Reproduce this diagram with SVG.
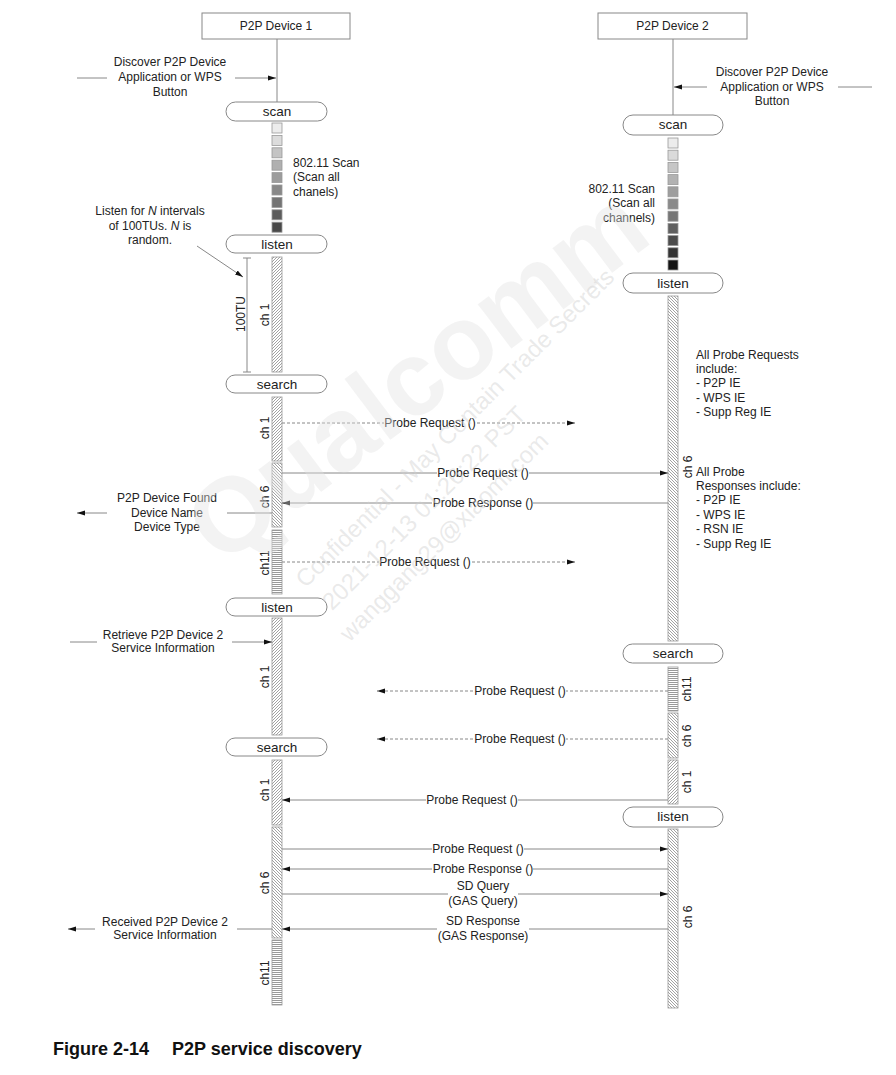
<svg xmlns="http://www.w3.org/2000/svg" width="896" height="1075" viewBox="0 0 896 1075">
<style>
text{font-family:"Liberation Sans",Arial,sans-serif;font-size:12px;fill:#222}
.c{text-anchor:middle}
.r{text-anchor:end}
.pt{font-size:13.5px;text-anchor:middle}
.ln{stroke:#888;stroke-width:1;fill:none}
.ds{stroke-dasharray:3 2}
.ar{marker-end:url(#ah)}
.pill{fill:#fff;stroke:#888;stroke-width:1}
.box{fill:#fff;stroke:#888;stroke-width:1}
.sq{stroke:#999;stroke-width:0.8}
.bar{stroke:#999;stroke-width:0.8}
.fw{fill:url(#fw)}
.bw{fill:url(#bw)}
.hz{fill:url(#hz)}
.wb{fill:#fff}
.wm{fill:#cfcfcf;fill-opacity:0.45;font-size:24px}
.cap{font-size:18px;font-weight:bold;fill:#111}
</style>
<defs>
<marker id="ah" viewBox="0 0 8 6" refX="8" refY="3" markerWidth="8" markerHeight="6" orient="auto" markerUnits="userSpaceOnUse"><path d="M0,0.6 L8,3 L0,5.4z" fill="#111"/></marker>
<pattern id="fw" patternUnits="userSpaceOnUse" width="3" height="3"><rect width="3" height="3" fill="#fff"/><path d="M-1,1 L1,-1 M0,3 L3,0 M2,4 L4,2" stroke="#7a7a7a" stroke-width="0.7"/></pattern>
<pattern id="bw" patternUnits="userSpaceOnUse" width="3" height="3"><rect width="3" height="3" fill="#fff"/><path d="M-1,2 L1,4 M0,0 L3,3 M2,-1 L4,1" stroke="#7a7a7a" stroke-width="0.7"/></pattern>
<pattern id="hz" patternUnits="userSpaceOnUse" width="4" height="2"><rect width="4" height="2" fill="#fff"/><rect width="4" height="1" fill="#999"/></pattern>
</defs>

<g id="device1">
<rect class="box" x="202" y="13" width="148" height="26"/>
<text class="c" x="276" y="30">P2P Device 1</text>
</g>
<g id="device2">
<rect class="box" x="598" y="13" width="149" height="26"/>
<text class="c" x="672.5" y="30">P2P Device 2</text>
</g>

<g id="lifeline1-states">
<rect class="pill" x="226" y="102" width="101" height="19" rx="9.5"/>
<text class="pt" x="277" y="116">scan</text>
<g class="sq">
<rect x="272" y="123" width="10" height="10" fill="#ececec"/>
<rect x="272" y="135.4" width="10" height="10" fill="#dcdcdc"/>
<rect x="272" y="147.8" width="10" height="10" fill="#c4c4c4"/>
<rect x="272" y="160.2" width="10" height="10" fill="#b0b0b0"/>
<rect x="272" y="172.6" width="10" height="10" fill="#9c9c9c"/>
<rect x="272" y="185" width="10" height="10" fill="#888"/>
<rect x="272" y="197.4" width="10" height="10" fill="#747474"/>
<rect x="272" y="209.8" width="10" height="10" fill="#5c5c5c"/>
<rect x="272" y="222.2" width="10" height="10" fill="#484848"/>
</g>
<rect class="pill" x="226" y="235" width="101" height="18" rx="9"/>
<text class="pt" x="277" y="249">listen</text>
<rect class="bar fw" x="272" y="257" width="10" height="115"/>
<rect class="pill" x="226" y="375" width="101" height="18" rx="9"/>
<text class="pt" x="277" y="389">search</text>
<rect class="bar fw" x="272" y="397" width="10" height="64"/>
<rect class="bar bw" x="272" y="463" width="10" height="64"/>
<rect class="bar hz" x="272" y="530" width="10" height="64"/>
<rect class="pill" x="226" y="598" width="101" height="18" rx="9"/>
<text class="pt" x="277" y="612">listen</text>
<rect class="bar fw" x="272" y="618" width="10" height="117"/>
<rect class="pill" x="226" y="738" width="101" height="18" rx="9"/>
<text class="pt" x="277" y="752">search</text>
<rect class="bar fw" x="272" y="760" width="10" height="65"/>
<rect class="bar bw" x="272" y="827" width="10" height="111"/>
<rect class="bar hz" x="272" y="940" width="10" height="65"/>
<text class="c" transform="rotate(-90 269 315)" x="269" y="315">ch 1</text>
<text class="c" transform="rotate(-90 269 428)" x="269" y="428">ch 1</text>
<text class="c" transform="rotate(-90 269 497)" x="269" y="497">ch 6</text>
<text class="c" transform="rotate(-90 269 563)" x="269" y="563">ch11</text>
<text class="c" transform="rotate(-90 269 677)" x="269" y="677">ch 1</text>
<text class="c" transform="rotate(-90 269 790)" x="269" y="790">ch 1</text>
<text class="c" transform="rotate(-90 269 883)" x="269" y="883">ch 6</text>
<text class="c" transform="rotate(-90 269 973)" x="269" y="973">ch11</text>
<path class="ln" d="M243,258 H251 M247,258 V372 M243,372 H251"/>
<text class="c" transform="rotate(-90 245 314)" x="245" y="314">100TU</text>
</g>

<g id="lifeline2-states">
<rect class="pill" x="623" y="115" width="100" height="20" rx="10"/>
<text class="pt" x="673" y="129">scan</text>
<g class="sq">
<rect x="668" y="138" width="10" height="10" fill="#ececec"/>
<rect x="668" y="150.2" width="10" height="10" fill="#dadada"/>
<rect x="668" y="162.4" width="10" height="10" fill="#c6c6c6"/>
<rect x="668" y="174.6" width="10" height="10" fill="#b2b2b2"/>
<rect x="668" y="186.8" width="10" height="10" fill="#9e9e9e"/>
<rect x="668" y="199" width="10" height="10" fill="#8a8a8a"/>
<rect x="668" y="211.2" width="10" height="10" fill="#767676"/>
<rect x="668" y="223.4" width="10" height="10" fill="#606060"/>
<rect x="668" y="235.6" width="10" height="10" fill="#4c4c4c"/>
<rect x="668" y="247.8" width="10" height="10" fill="#333"/>
<rect x="668" y="260" width="10" height="10" fill="#141414"/>
</g>
<rect class="pill" x="623" y="273" width="100" height="20" rx="10"/>
<text class="pt" x="673" y="288">listen</text>
<rect class="bar bw" x="668" y="296" width="10" height="345"/>
<rect class="pill" x="623" y="644" width="100" height="19" rx="9.5"/>
<text class="pt" x="673" y="658">search</text>
<rect class="bar hz" x="668" y="667" width="10" height="44"/>
<rect class="bar bw" x="668" y="713" width="10" height="45"/>
<rect class="bar fw" x="668" y="760" width="10" height="44"/>
<rect class="pill" x="623" y="807" width="100" height="20" rx="10"/>
<text class="pt" x="673" y="821">listen</text>
<rect class="bar bw" x="668" y="829" width="10" height="179"/>
<text class="c" transform="rotate(-90 692 467)" x="692" y="467">ch 6</text>
<text class="c" transform="rotate(-90 691 689)" x="691" y="689">ch11</text>
<text class="c" transform="rotate(-90 691 736)" x="691" y="736">ch 6</text>
<text class="c" transform="rotate(-90 691 782)" x="691" y="782">ch 1</text>
<text class="c" transform="rotate(-90 692 917)" x="692" y="917">ch 6</text>
</g>

<g id="notes">
<text class="c" x="170" y="66">Discover P2P Device</text>
<text class="c" x="170" y="81">Application or WPS</text>
<text class="c" x="170" y="96">Button</text>
<text class="c" x="772" y="76">Discover P2P Device</text>
<text class="c" x="772" y="91">Application or WPS</text>
<text class="c" x="772" y="105">Button</text>
<text x="293" y="167">802.11 Scan</text>
<text x="293" y="181">(Scan all</text>
<text x="293" y="196">chanels)</text>
<text class="r" x="655" y="193">802.11 Scan</text>
<text class="r" x="655" y="207">(Scan all</text>
<text class="r" x="655" y="222">channels)</text>
<text class="c" x="150" y="215">Listen for <tspan font-style="italic">N</tspan> intervals</text>
<text class="c" x="150" y="230">of 100TUs. <tspan font-style="italic">N</tspan> is</text>
<text class="c" x="150" y="244">random.</text>
<text x="696" y="359">All Probe Requests</text>
<text x="696" y="373">include:</text>
<text x="696" y="387">- P2P IE</text>
<text x="696" y="402">- WPS IE</text>
<text x="696" y="416">- Supp Reg IE</text>
<text x="696" y="476">All Probe</text>
<text x="696" y="490">Responses include:</text>
<text x="696" y="504">- P2P IE</text>
<text x="696" y="519">- WPS IE</text>
<text x="696" y="533">- RSN IE</text>
<text x="696" y="548">- Supp Reg IE</text>
<text class="c" x="167" y="502">P2P Device Found</text>
<text class="c" x="167" y="517">Device Name</text>
<text class="c" x="167" y="531">Device Type</text>
<text class="c" x="163" y="639">Retrieve P2P Device 2</text>
<text class="c" x="163" y="652">Service Information</text>
<text class="c" x="165" y="926">Received P2P Device 2</text>
<text class="c" x="165" y="939">Service Information</text>
</g>

<g id="connectors">
<line class="ln" x1="277" y1="39" x2="277" y2="102"/>
<line class="ln" x1="673" y1="39" x2="673" y2="115"/>
<line class="ln" x1="77" y1="78" x2="107" y2="78"/>
<line class="ln ar" x1="235" y1="78" x2="276" y2="78"/>
<line class="ln ar" x1="707" y1="87" x2="674" y2="87"/>
<line class="ln" x1="838" y1="87" x2="872" y2="87"/>
<line class="ln ar" x1="197" y1="246" x2="243" y2="277"/>
<line class="ln" x1="227" y1="513" x2="272" y2="513"/>
<line class="ln ar" x1="107" y1="513" x2="77" y2="513"/>
<line class="ln" x1="70" y1="642" x2="97" y2="642"/>
<line class="ln ar" x1="232" y1="642" x2="272" y2="642"/>
<line class="ln ar" x1="95" y1="929" x2="68" y2="929"/>
<line class="ln" x1="237" y1="929" x2="272" y2="929"/>

<line class="ln ds ar" x1="282" y1="423" x2="575" y2="423"/>
<rect class="wb" x="384" y="416" width="92" height="14"/>
<text class="c" x="430" y="427">Probe Request ()</text>

<line class="ln ar" x1="282" y1="473" x2="668" y2="473"/>
<rect class="wb" x="437" y="466" width="92" height="14"/>
<text class="c" x="483" y="477">Probe Request ()</text>

<line class="ln ar" x1="668" y1="503" x2="282" y2="503"/>
<rect class="wb" x="432" y="496" width="101" height="14"/>
<text class="c" x="483" y="507">Probe Response ()</text>

<line class="ln ds ar" x1="282" y1="562" x2="575" y2="562"/>
<rect class="wb" x="379" y="555" width="92" height="14"/>
<text class="c" x="425" y="566">Probe Request ()</text>

<line class="ln ds ar" x1="668" y1="691" x2="377" y2="691"/>
<rect class="wb" x="474" y="684" width="92" height="14"/>
<text class="c" x="520" y="695">Probe Request ()</text>

<line class="ln ds ar" x1="668" y1="739" x2="377" y2="739"/>
<rect class="wb" x="474" y="732" width="92" height="14"/>
<text class="c" x="520" y="743">Probe Request ()</text>

<line class="ln ar" x1="668" y1="800" x2="282" y2="800"/>
<rect class="wb" x="426" y="793" width="92" height="14"/>
<text class="c" x="472" y="804">Probe Request ()</text>

<line class="ln ar" x1="282" y1="849" x2="668" y2="849"/>
<rect class="wb" x="432" y="842" width="92" height="14"/>
<text class="c" x="478" y="853">Probe Request ()</text>

<line class="ln ar" x1="668" y1="869" x2="282" y2="869"/>
<rect class="wb" x="432" y="862" width="101" height="14"/>
<text class="c" x="483" y="873">Probe Response ()</text>

<line class="ln ar" x1="282" y1="894" x2="668" y2="894"/>
<rect class="wb" x="448" y="880" width="70" height="27"/>
<text class="c" x="483" y="890">SD Query</text>
<text class="c" x="483" y="905">(GAS Query)</text>

<line class="ln ar" x1="668" y1="929" x2="282" y2="929"/>
<rect class="wb" x="437" y="914" width="92" height="28"/>
<text class="c" x="483" y="925">SD Response</text>
<text class="c" x="483" y="940">(GAS Response)</text>
</g>

<g id="watermark">
<text class="wm" transform="rotate(-37 420 380)" x="420" y="410" text-anchor="middle" style="font-size:105px;font-weight:bold;fill:#e2e2e2;fill-opacity:0.4">Qualcomm</text>
<text class="wm" transform="rotate(-45 455 428)" x="455" y="436" text-anchor="middle">Confidential - May Contain Trade Secrets</text>
<text class="wm" transform="rotate(-45 424 508)" x="424" y="516" text-anchor="middle">2021-12-13 01:26:22 PST</text>
<text class="wm" transform="rotate(-45 444 537)" x="444" y="545" text-anchor="middle">wanggang29@xiaomi.com</text>
</g>

<g id="caption">
<text class="cap" x="53" y="1055">Figure 2-14</text>
<text class="cap" x="172" y="1055">P2P service discovery</text>
</g>
</svg>
